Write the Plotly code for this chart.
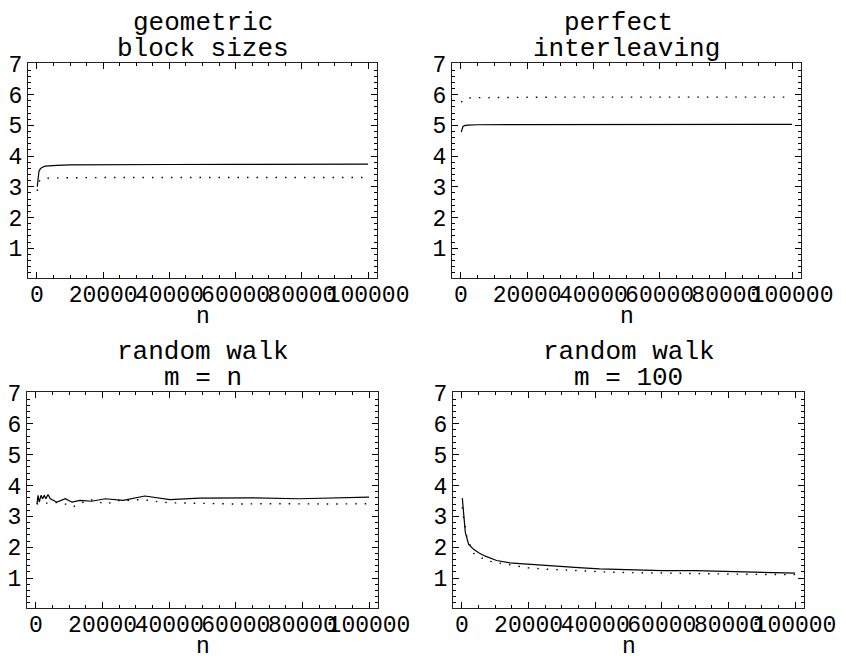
import plotly.graph_objects as go

# ---------------- data ----------------
# panel 1: geometric block sizes
geo_n_solid = [100, 300, 600, 1000, 1500, 2500, 4000, 6000, 10000, 20000, 40000, 60000, 80000, 100000]
geo_y_solid = [3.0, 3.35, 3.5, 3.58, 3.63, 3.67, 3.69, 3.70, 3.71, 3.72, 3.725, 3.73, 3.73, 3.735]
geo_n_dot = [100, 500, 1000, 2000, 5000, 10000, 20000, 40000, 60000, 80000, 100000]
geo_y_dot = [2.87, 3.15, 3.22, 3.27, 3.29, 3.30, 3.30, 3.30, 3.30, 3.30, 3.30]

# panel 2: perfect interleaving
pi_n_solid = [100, 300, 600, 1000, 2000, 5000, 20000, 50000, 100000]
pi_y_solid = [4.78, 4.90, 4.96, 4.99, 5.01, 5.02, 5.02, 5.03, 5.03]
pi_n_dot = [100, 1000, 3000, 10000, 30000, 60000, 100000]
pi_y_dot = [5.75, 5.85, 5.90, 5.91, 5.92, 5.92, 5.92]

# panel 3: random walk, m = n
rw_n_solid = [300, 600, 990, 1500, 2000, 2500, 3000, 3600, 4300, 6300, 8800, 10800, 13200,
              16700, 20800, 26200, 32700, 40200, 49200, 64000, 79000, 100000]
rw_y_solid = [3.41, 3.68, 3.46, 3.68, 3.57, 3.68, 3.57, 3.71, 3.57, 3.46, 3.57, 3.46, 3.52,
              3.49, 3.57, 3.52, 3.66, 3.54, 3.59, 3.60, 3.57, 3.62]
rw_n_dot = [200, 1300, 3500, 6000, 8600, 11000, 13500, 16200, 21200, 23900, 26700, 29500,
            32200, 34700, 37700, 40700, 45000, 51600, 60000, 70000, 80000, 90000, 100000]
rw_y_dot = [3.40, 3.43, 3.43, 3.45, 3.41, 3.30, 3.43, 3.55, 3.39, 3.52, 3.50, 3.54,
            3.54, 3.50, 3.46, 3.44, 3.43, 3.41, 3.40, 3.41, 3.40, 3.40, 3.41]

# panel 4: random walk, m = 100
rw100_n_solid = [100, 500, 1000, 2000, 3500, 5000, 7000, 10400, 14400, 17400, 23400, 29300,
                 35000, 41300, 50200, 60000, 70100, 80000, 87000, 100000]
rw100_y_solid = [3.59, 3.02, 2.48, 2.09, 1.93, 1.82, 1.71, 1.57, 1.49, 1.47, 1.42, 1.39,
                 1.34, 1.30, 1.27, 1.24, 1.24, 1.22, 1.20, 1.16]
rw100_n_dot = [100, 500, 1500, 3500, 6000, 8500, 11000, 14000, 17000, 20000, 25000, 30000,
               36000, 45000, 55000, 65000, 77000, 88000, 100000]
rw100_y_dot = [3.30, 2.95, 2.31, 1.80, 1.65, 1.54, 1.49, 1.44, 1.38, 1.33, 1.29, 1.26,
               1.22, 1.19, 1.17, 1.15, 1.13, 1.12, 1.11]

titles = [("geometric", "block sizes"), ("perfect", "interleaving"),
          ("random walk", "m = n"), ("random walk", "m = 100")]
x_tick_vals = [0, 20000, 40000, 60000, 80000, 100000]
x_tick_text = ["0", "20000", "40000", "60000", "80000", "100000"]
y_tick_vals = [1, 2, 3, 4, 5, 6, 7]
y_tick_text = ["1", "2", "3", "4", "5", "6", "7"]

# ---------------- layout geometry ----------------
W, H = 846, 660
# frame pixel boxes (left, right, top, bottom)
boxes = [(28, 377, 63, 278), (452, 801, 63, 278), (27, 378, 392, 608), (453, 804, 392, 608)]

series = [
    (geo_n_solid, geo_y_solid, geo_n_dot, geo_y_dot),
    (pi_n_solid, pi_y_solid, pi_n_dot, pi_y_dot),
    (rw_n_solid, rw_y_solid, rw_n_dot, rw_y_dot),
    (rw100_n_solid, rw100_y_solid, rw100_n_dot, rw100_y_dot),
]

TICKFONT = dict(family="Liberation Mono", size=23, color="black")
TITLEFONT = dict(family="Liberation Mono", size=26, color="black")

fig = go.Figure()
annotations = []
for i, ((l, r, t, b), (ns, ys, nd, yd), (t1, t2)) in enumerate(zip(boxes, series, titles)):
    k = "" if i == 0 else str(i + 1)
    xa, ya = "x" + k, "y" + k
    fig.add_trace(go.Scatter(x=nd, y=yd, mode="lines", xaxis=xa, yaxis=ya,
                             line=dict(color="black", width=1.4, dash="1.5px,8px"),
                             showlegend=False, hoverinfo="skip"))
    fig.add_trace(go.Scatter(x=ns, y=ys, mode="lines", xaxis=xa, yaxis=ya,
                             line=dict(color="black", width=1.2),
                             showlegend=False, hoverinfo="skip"))
    common = dict(showgrid=False, zeroline=False, showline=True, linecolor="#222",
                  linewidth=1.2, mirror="allticks", ticks="inside", tickcolor="black",
                  tickwidth=1, ticklen=6, tickfont=TICKFONT, tickangle=0, automargin=False)
    fig.layout["xaxis" + k] = dict(
        common, domain=[l / W, r / W], anchor=ya, range=[-2700, 102700],
        tickmode="array", tickvals=x_tick_vals, ticktext=x_tick_text, ticklabelstandoff=-5,
        minor=dict(dtick=5000, tick0=0, ticks="inside", ticklen=3, tickcolor="black", showgrid=False))
    fig.layout["yaxis" + k] = dict(
        common, domain=[1 - b / H, 1 - t / H], anchor=xa, range=[0.03, 7.03],
        tickmode="array", tickvals=y_tick_vals, ticktext=y_tick_text,
        minor=dict(dtick=0.2, tick0=0, ticks="inside", ticklen=3, tickcolor="black", showgrid=False))
    cx = (l + r) / 2 / W
    shift1 = -8 if (len(t2) - len(t1)) % 2 else 0
    annotations.append(dict(text=t1, x=cx, y=1 - (t - 40) / H, xref="paper", yref="paper",
                            xanchor="center", yanchor="middle", showarrow=False,
                            font=TITLEFONT, xshift=shift1))
    annotations.append(dict(text=t2, x=cx, y=1 - (t - 14) / H, xref="paper", yref="paper",
                            xanchor="center", yanchor="middle", showarrow=False,
                            font=TITLEFONT))
    annotations.append(dict(text="n", x=cx, y=1 - (b + 39) / H, xref="paper",
                            yref="paper", xanchor="center", yanchor="middle", showarrow=False,
                            font=dict(family="Liberation Mono", size=23, color="black")))

fig.update_layout(template="none", width=W, height=H, margin=dict(l=0, r=0, t=0, b=0),
                  paper_bgcolor="white", plot_bgcolor="white",
                  annotations=annotations)
fig.write_html("out.html", config={"displayModeBar": False},
               post_script="document.body.style.margin='0px';")
